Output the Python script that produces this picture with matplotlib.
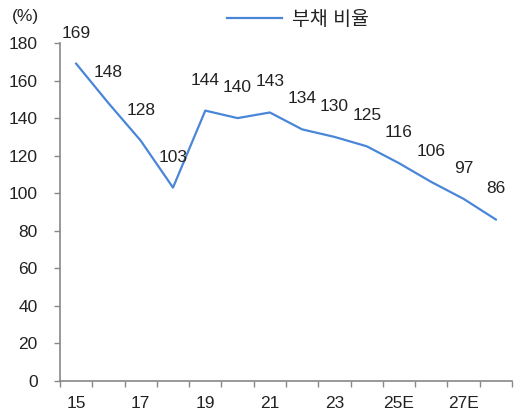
import matplotlib
matplotlib.use("Agg")
import matplotlib.pyplot as plt

plt.rcParams["font.family"] = ["Liberation Sans", "Noto Sans CJK KR", "DejaVu Sans"]

# ---------------------- 데이터 ----------------------
years = ["15", "16", "17", "18", "19", "20", "21", "22", "23", "24", "25E", "26E", "27E", "28E"]
debt_ratio = [169, 148, 128, 103, 144, 140, 143, 134, 130, 125, 116, 106, 97, 86]
tick_labels = ["15", "", "17", "", "19", "", "21", "", "23", "", "25E", "", "27E", ""]

line_color = "#4A86D8"
text_color = "#222222"
spine_color = "#888888"

fig = plt.figure(figsize=(5.26, 4.16), dpi=100)
ax = fig.add_axes([60 / 526, 1 - 381 / 416, (512 - 60) / 526, (381 - 43) / 416])

x = list(range(len(years)))
ax.plot(x, debt_ratio, color=line_color, lw=1.6, label="부채 비율")

for xi, v in zip(x, debt_ratio):
    ax.annotate(str(v), (xi, v), xytext=(0, 22), textcoords="offset points",
                ha="center", va="center", fontsize=12.5, color=text_color)

ax.set_xlim(-0.5, len(years) - 0.5)
ax.set_ylim(0, 180)
ax.set_yticks(range(0, 181, 20))

# x축: 카테고리 경계에 눈금, 라벨은 가운데
ax.set_xticks([i - 0.5 for i in range(len(years) + 1)])
ax.set_xticklabels([])
ax.set_xticks(x, minor=True)
ax.set_xticklabels(tick_labels, minor=True)
ax.tick_params(axis="x", which="major", length=4, width=1, color=spine_color, direction="out")
ax.tick_params(axis="x", which="minor", length=0, pad=11, labelsize=12.5, labelcolor=text_color)
ax.tick_params(axis="y", length=4, width=1, color=spine_color, labelsize=12.5,
               labelcolor=text_color, pad=12)

for s in ["top", "right"]:
    ax.spines[s].set_visible(False)
for s in ["left", "bottom"]:
    ax.spines[s].set_color(spine_color)
    ax.spines[s].set_linewidth(1.2)

fig.text(25 / 526, 1 - 17 / 416, "(%)", ha="center", va="center", fontsize=12.5, color=text_color)

fig.legend(loc="center", bbox_to_anchor=(298 / 526, 1 - 20 / 416), frameon=False,
           fontsize=14, handlelength=2.8, handletextpad=0.5, labelcolor=text_color)

fig.savefig("out.png", dpi=100)
